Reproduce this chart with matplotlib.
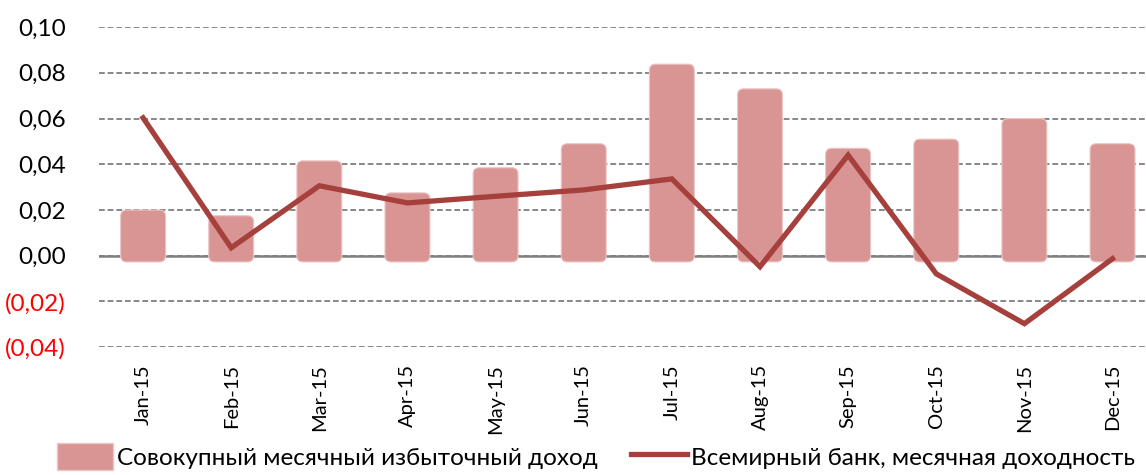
import numpy as np
import matplotlib.pyplot as plt
from matplotlib.patches import FancyBboxPatch, Patch
from matplotlib.lines import Line2D

plt.rcParams['font.family'] = ['Lato', 'DejaVu Sans']

months = ['Jan-15', 'Feb-15', 'Mar-15', 'Apr-15', 'May-15', 'Jun-15',
          'Jul-15', 'Aug-15', 'Sep-15', 'Oct-15', 'Nov-15', 'Dec-15']
excess_income = [0.020, 0.0175, 0.0415, 0.0275, 0.0385, 0.049,
                 0.0838, 0.073, 0.047, 0.051, 0.060, 0.049]
wb_return = [0.0603, 0.0035, 0.0306, 0.0231, 0.026, 0.0288,
             0.0336, -0.0048, 0.044, -0.0079, -0.0297, -0.0013]
yticks = [-0.04, -0.02, 0.0, 0.02, 0.04, 0.06, 0.08, 0.10]
ylabels = ['(0,04)', '(0,02)', '0,00', '0,02', '0,04', '0,06', '0,08', '0,10']

bar_color = '#D99594'
line_color = '#A5403C'

fig = plt.figure(figsize=(11.46, 4.75), dpi=100)
ax = fig.add_axes([0.0864, 0.269, 0.9136, 0.674])

x = np.arange(len(months))
base = -0.0027
bars = ax.bar(x, np.array(excess_income) - base, bottom=base, width=0.51,
              color=bar_color, zorder=2)
# swap rectangles for rounded ones
for b in bars:
    b.set_visible(False)
    fb = FancyBboxPatch((b.get_x(), b.get_y()), b.get_width(), b.get_height(),
                        boxstyle='round,pad=0,rounding_size=0.07',
                        mutation_aspect=0.038, facecolor=bar_color,
                        edgecolor='#ECC6C5', linewidth=0.8, zorder=2)
    ax.add_patch(fb)

ax.plot(x, wb_return, color=line_color, linewidth=3.8, zorder=3,
        solid_joinstyle='miter')

ax.set_xlim(-0.5, 11.38)
ax.set_ylim(-0.04, 0.10)
ax.set_yticks(yticks)
ax.set_yticklabels(ylabels, fontsize=17.5)
for t, v in zip(ax.get_yticklabels(), yticks):
    if v < 0:
        t.set_color('red')
ax.yaxis.grid(True, linestyle=(0, (3.2, 1.6)), color='#7F7F7F', linewidth=1.3, zorder=0)
ax.axhline(0, color='#808080', linewidth=1.8, zorder=1)
ax.set_xticks(x)
ax.set_xticklabels(months, rotation=90, fontsize=14.5)
ax.tick_params(length=0, axis='both')
ax.tick_params(axis='y', pad=24)
ax.tick_params(axis='x', pad=12)
for s in ax.spines.values():
    s.set_visible(False)

handles = [Patch(facecolor=bar_color, edgecolor='#ECC6C5'),
           Line2D([0], [0], color=line_color, linewidth=3.8)]
labels = ['Совокупный месячный избыточный доход', 'Всемирный банк, месячная доходность']
fig.legend(handles, labels, loc='lower center', bbox_to_anchor=(0.52, -0.035), ncol=2,
           frameon=False, fontsize=17.5, handlelength=2.3, handleheight=1.3,
           handletextpad=0.15, columnspacing=1.4)

fig.savefig('out.png', dpi=100)
